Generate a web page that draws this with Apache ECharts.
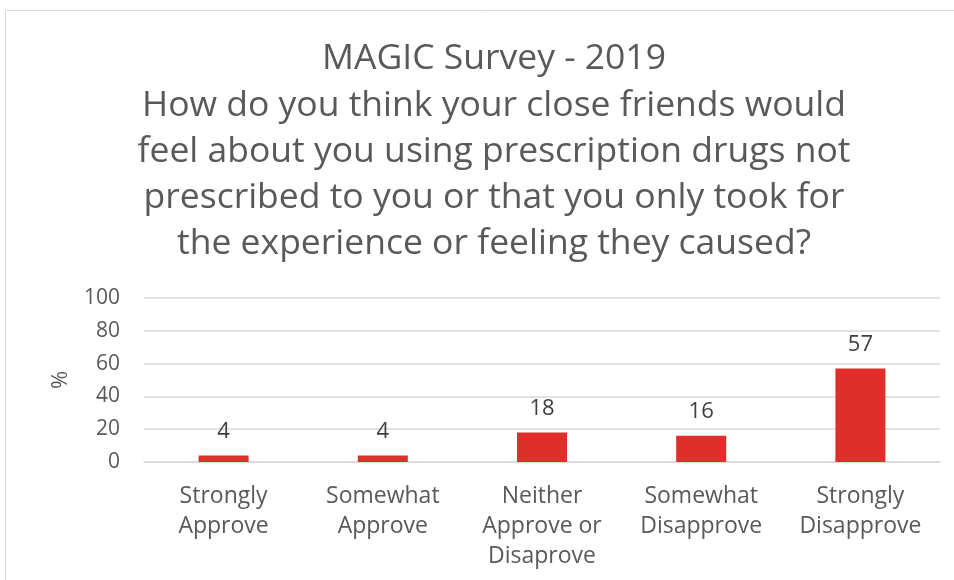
<!DOCTYPE html>
<html><head><meta charset="utf-8">
<script src="https://cdn.jsdelivr.net/npm/echarts@6/dist/echarts.min.js"></script>
<style>html,body{margin:0;padding:0;background:#fff}#c{width:954px;height:580px}</style>
</head><body><div id="c"></div>
<script>
var titleText = "MAGIC Survey - 2019\nHow do you think your close friends would\nfeel about you using prescription drugs not\nprescribed to you or that you only took for\nthe experience or feeling they caused?";
var categories = ["Strongly\nApprove", "Somewhat\nApprove", "Neither\nApprove or\nDisaprove", "Somewhat\nDisapprove", "Strongly\nDisapprove"];
var values = [4, 4, 18, 16, 57];
var yTicks = [0, 20, 40, 60, 80, 100];
var yAxisName = "%";

var chart = echarts.init(document.getElementById('c'));
var FONT = "Open Sans";
chart.setOption({
  animation: false,
  graphic: [{
    type: 'rect', shape: {x: 5.5, y: 10.5, width: 960, height: 600},
    style: {fill: null, stroke: '#d9d9d9', lineWidth: 1}, silent: true, z: -1
  }],
  title: {
    text: titleText, left: 489, top: 31, textAlign: 'center',
    textStyle: {fontFamily: FONT, fontSize: 35.5, fontWeight: 'normal', color: '#595959', lineHeight: 46.3}
  },
  grid: {left: 144, right: 14, top: 298, bottom: 118},
  xAxis: {
    type: 'category', data: categories,
    axisLine: {show: true, lineStyle: {color: '#d9d9d9', width: 1.5}},
    axisTick: {show: false},
    axisLabel: {interval: 0, margin: 19, fontFamily: FONT, fontSize: 23, color: '#595959', lineHeight: 30}
  },
  yAxis: {
    type: 'value', min: yTicks[0], max: yTicks[yTicks.length - 1], interval: yTicks[1] - yTicks[0],
    name: yAxisName, nameLocation: 'middle', nameGap: 72, nameRotate: 90,
    nameTextStyle: {fontFamily: FONT, fontSize: 22, color: '#595959'},
    axisLine: {show: false}, axisTick: {show: false},
    axisLabel: {margin: 24, fontFamily: FONT, fontSize: 21, color: '#595959'},
    splitLine: {lineStyle: {color: '#d9d9d9', width: 1.5}}
  },
  series: [{
    type: 'bar', data: values, barWidth: 50,
    itemStyle: {color: '#e02e2a'},
    label: {show: true, position: 'top', distance: 13, fontFamily: FONT, fontSize: 22, color: '#404040'}
  }]
});
</script></body></html>
